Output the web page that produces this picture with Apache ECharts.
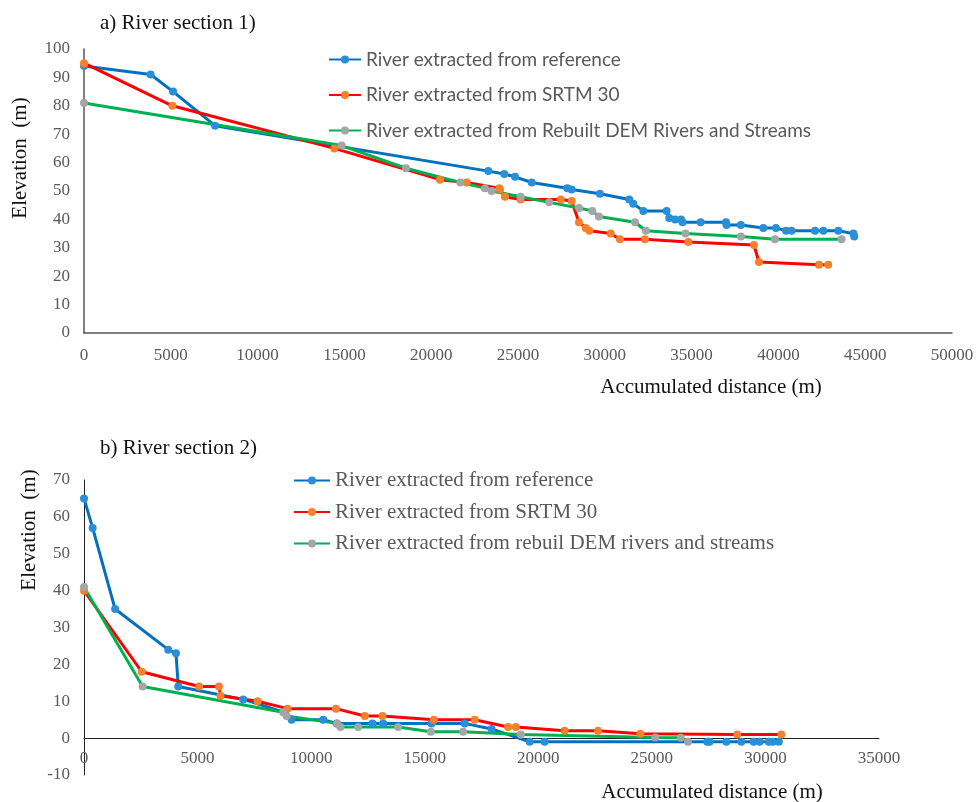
<!DOCTYPE html>
<html>
<head>
<meta charset="utf-8">
<script src="https://cdn.jsdelivr.net/npm/echarts@6/dist/echarts.min.js"></script>
<style>
  html, body { margin: 0; padding: 0; background: #fff; }
  #chart { width: 978px; height: 802px; }
</style>
</head>
<body>
<div id="chart"></div>
<script>
// section 1 — [accumulated distance (m), elevation (m)]
const refA = [[0,94],[3840,91],[5130,85],[7550,73],[23290,57],[24210,56],[24830,55],[25790,53],
  [27840,51],[28090,50.5],[29720,49],[31410,47],[31640,45.5],[32220,43],[33560,43],[33710,40.5],
  [34040,40],[34390,40],[34480,39],[35520,39],[36980,39],[37010,38],[37840,38],[39130,37],
  [39860,37],[40440,36],[40760,36],[42110,36],[42590,36],[43450,36],[44320,35],[44370,34]];
const srtmA = [[0,95],[5090,80],[14420,65],[20510,54],[22040,53],[23920,51],[23960,50.5],[24250,48],
  [25150,47],[27460,47],[28090,46.5],[28510,39],[28900,37],[29110,36],[30340,35],[30870,33],
  [32310,33],[34810,32],[38590,31],[38880,25],[42340,24],[42870,24]];
const demA = [[0,81],[14840,66],[18550,58],[21680,53],[23100,51],[23480,50],[25150,48],[26800,46],
  [28510,44],[29280,43],[29660,41],[31740,39],[32370,36],[34650,35],[37840,34],[39800,33],[43640,33]];

// section 2
const refB = [[0,65],[380,57],[1370,35],[3710,24],[4050,23],[4150,14],[7010,10.5],[8840,7],[9140,5],
  [10530,5],[11120,4],[12700,4],[13170,4],[15300,4],[16760,4],[17940,2.5],[19620,-1],[20280,-1],
  [27440,-1],[27540,-1],[28280,-1],[28940,-1],[29480,-1],[29740,-1],[30150,-1],[30330,-1],[30590,-1]];
const srtmB = [[0,40],[2540,18],[5070,14],[5940,14],[6010,11.5],[7640,10],[8960,8],[11090,8],[12360,6],
  [13140,6],[15400,5],[17200,5],[18670,3],[19010,3],[21160,2],[22630,2],[24490,1.2],[28760,1],[30700,1]];
const demB = [[0,41],[2580,14],[8770,7],[8920,6],[11150,4],[11290,3],[12070,3],[13830,3],[15270,1.7],
  [16690,1.7],[19230,1],[25150,0.2],[26270,0.1],[26590,-1]];

const namesA = ["River extracted from reference", "River extracted from SRTM 30",
  "River extracted from Rebuilt DEM Rivers and Streams"];
const namesB = ["River extracted from reference", "River extracted from SRTM 30",
  "River extracted from rebuil DEM rivers and streams"];

const serif = "'Liberation Serif', 'Times New Roman', serif";
const lineCol = ["#0070C0", "#FF0000", "#00B050"];
const dotCol = ["#2B8FD8", "#F5822A", "#A5A5A5"];
const plain = v => String(v);

function mkSeries(name, data, i, idx) {
  return {
    name: name,
    type: "line",
    data: data,
    xAxisIndex: idx,
    yAxisIndex: idx,
    symbol: "circle",
    symbolSize: 8,
    lineStyle: { color: lineCol[i], width: 3 },
    itemStyle: { color: dotCol[i] },
    emphasis: { disabled: true },
    animation: false
  };
}

const chart = echarts.init(document.getElementById("chart"));
chart.setOption({
  backgroundColor: "#fff",
  title: [
    { text: "a) River section 1)", left: 95, top: 8, textStyle: { fontFamily: serif, fontSize: 21, fontWeight: "normal", color: "#111" } },
    { text: "b) River section 2)", left: 95, top: 433, textStyle: { fontFamily: serif, fontSize: 21, fontWeight: "normal", color: "#111" } }
  ],
  legend: [
    {
      data: namesA, orient: "vertical", left: 323, top: 45, itemWidth: 32, itemHeight: 10, itemGap: 16.5,
      textStyle: { fontFamily: "Lato, 'Open Sans', sans-serif", fontSize: 19, color: "#595959" }
    },
    {
      data: namesB, orient: "vertical", left: 288, top: 465, itemWidth: 36, itemHeight: 10, itemGap: 10.5,
      textStyle: { fontFamily: serif, fontSize: 21, color: "#595959" }
    }
  ],
  grid: [
    { left: 84, top: 49, width: 868, height: 284 },
    { left: 84, top: 480, width: 795, height: 295 }
  ],
  xAxis: [
    {
      type: "value", gridIndex: 0, min: 0, max: 50000, interval: 5000,
      axisLine: { lineStyle: { color: "#555", width: 1.5 } },
      axisTick: { show: false }, splitLine: { show: false },
      axisLabel: { fontFamily: serif, fontSize: 17, color: "#595959", margin: 14, formatter: plain }
    },
    {
      type: "value", gridIndex: 1, min: 0, max: 35000, interval: 5000,
      offset: -295 / 8,
      axisLine: { onZero: false, lineStyle: { color: "#222", width: 1 } },
      axisTick: { show: false }, splitLine: { show: false },
      axisLabel: { fontFamily: serif, fontSize: 17, color: "#595959", margin: 12, formatter: plain }
    }
  ],
  yAxis: [
    {
      type: "value", gridIndex: 0, min: 0, max: 100, interval: 10,
      axisLine: { show: true, lineStyle: { color: "#555", width: 1.5 } },
      axisTick: { show: false }, splitLine: { show: false },
      axisLabel: { fontFamily: serif, fontSize: 17, color: "#595959", margin: 14 }
    },
    {
      type: "value", gridIndex: 1, min: -10, max: 70, interval: 10,
      axisLine: { show: true, onZero: false, lineStyle: { color: "#222", width: 1 } },
      axisTick: { show: false }, splitLine: { show: false },
      axisLabel: { fontFamily: serif, fontSize: 17, color: "#595959", margin: 14 }
    }
  ],
  graphic: [
    { type: "text", x: 20, y: 158, rotation: Math.PI / 2,
      style: { text: "Elevation  (m)", font: "21px " + serif, fill: "#111", textAlign: "center", textVerticalAlign: "middle" } },
    { type: "text", x: 29, y: 530, rotation: Math.PI / 2,
      style: { text: "Elevation  (m)", font: "21px " + serif, fill: "#111", textAlign: "center", textVerticalAlign: "middle" } },
    { type: "text", x: 711, y: 387,
      style: { text: "Accumulated distance (m)", font: "21px " + serif, fill: "#111", textAlign: "center", textVerticalAlign: "middle" } },
    { type: "text", x: 712, y: 792,
      style: { text: "Accumulated distance (m)", font: "21px " + serif, fill: "#111", textAlign: "center", textVerticalAlign: "middle" } }
  ],
  series: [
    mkSeries(namesA[0], refA, 0, 0),
    mkSeries(namesA[1], srtmA, 1, 0),
    mkSeries(namesA[2], demA, 2, 0),
    mkSeries(namesB[0], refB, 0, 1),
    mkSeries(namesB[1], srtmB, 1, 1),
    mkSeries(namesB[2], demB, 2, 1)
  ]
});
</script>
</body>
</html>
